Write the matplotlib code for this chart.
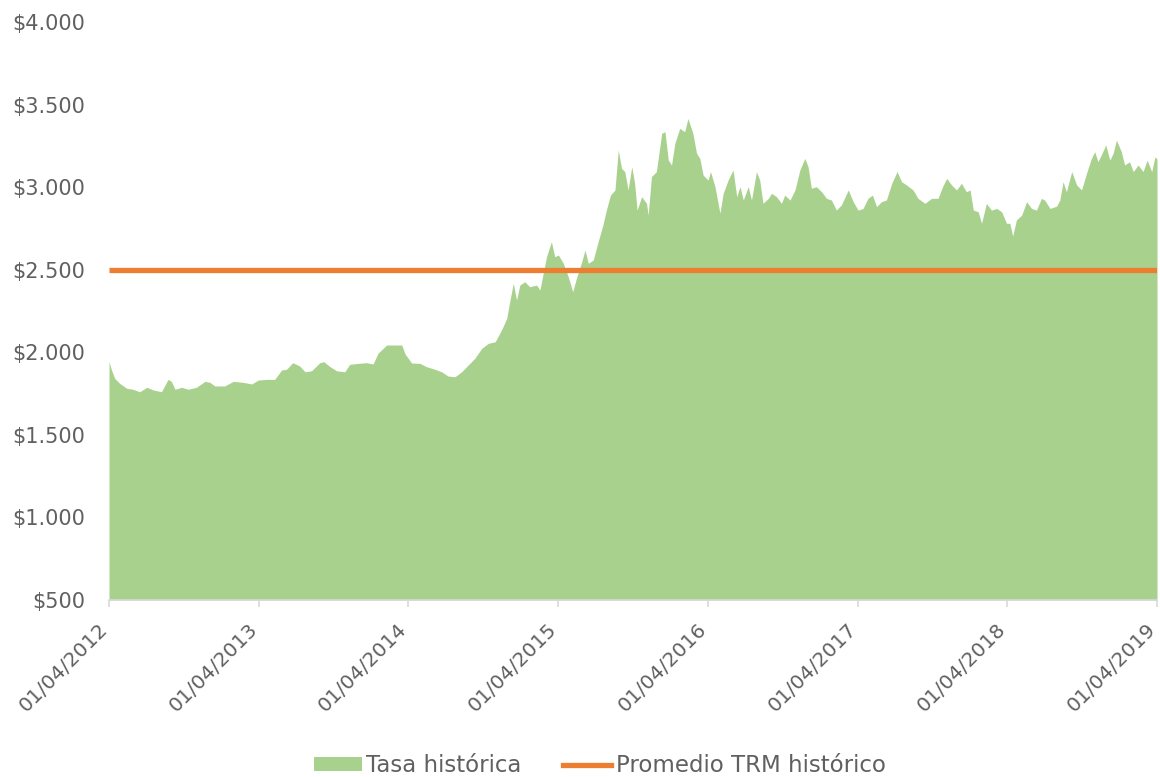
import matplotlib
matplotlib.use("Agg")
import matplotlib.pyplot as plt
import matplotlib.ticker as mticker
import matplotlib.transforms as mtransforms
import pandas as pd
from matplotlib.lines import Line2D
from matplotlib.patches import Patch

# ---- data ----
dates = [
    "2012-04-01", "2012-04-07", "2012-04-15", "2012-04-27", "2012-05-14", "2012-05-29",
    "2012-06-15", "2012-07-02", "2012-07-18", "2012-08-07", "2012-08-23", "2012-08-31",
    "2012-09-09", "2012-09-25", "2012-10-11", "2012-10-31", "2012-11-21", "2012-12-03",
    "2012-12-15", "2013-01-08", "2013-01-29", "2013-02-22", "2013-03-15", "2013-03-31",
    "2013-04-20", "2013-05-10", "2013-05-27", "2013-06-08", "2013-06-23", "2013-07-10",
    "2013-07-23", "2013-08-08", "2013-08-28", "2013-09-07", "2013-09-22", "2013-10-08",
    "2013-10-28", "2013-11-09", "2013-11-30", "2013-12-20", "2014-01-05", "2014-01-17",
    "2014-02-07", "2014-02-27", "2014-03-16", "2014-03-24", "2014-04-09", "2014-04-29",
    "2014-05-15", "2014-06-05", "2014-06-21", "2014-07-07", "2014-07-24", "2014-08-09",
    "2014-08-25", "2014-09-10", "2014-09-27", "2014-10-13", "2014-10-30", "2014-11-10",
    "2014-11-18", "2014-11-27", "2014-12-05", "2014-12-13", "2014-12-21", "2014-12-29",
    "2015-01-10", "2015-01-22", "2015-02-08", "2015-02-16", "2015-02-24", "2015-03-04",
    "2015-03-16", "2015-03-24", "2015-04-02", "2015-04-14", "2015-04-26", "2015-05-07",
    "2015-05-16", "2015-05-29", "2015-06-06", "2015-06-14", "2015-06-26", "2015-07-08",
    "2015-07-20", "2015-07-28", "2015-08-07", "2015-08-18", "2015-08-26", "2015-09-03",
    "2015-09-11", "2015-09-19", "2015-09-28", "2015-10-05", "2015-10-11", "2015-10-22",
    "2015-11-03", "2015-11-07", "2015-11-15", "2015-11-27", "2015-12-10", "2015-12-18",
    "2015-12-26", "2016-01-03", "2016-01-11", "2016-01-23", "2016-02-04", "2016-02-12",
    "2016-02-24", "2016-03-04", "2016-03-12", "2016-03-20", "2016-04-01", "2016-04-07",
    "2016-04-18", "2016-04-30", "2016-05-08", "2016-05-20", "2016-06-01", "2016-06-10",
    "2016-06-18", "2016-06-26", "2016-07-08", "2016-07-16", "2016-07-28", "2016-08-05",
    "2016-08-13", "2016-08-26", "2016-09-03", "2016-09-15", "2016-09-27", "2016-10-05",
    "2016-10-18", "2016-10-30", "2016-11-11", "2016-11-23", "2016-12-01", "2016-12-09",
    "2016-12-21", "2017-01-03", "2017-01-15", "2017-01-27", "2017-02-08", "2017-02-20",
    "2017-03-09", "2017-03-21", "2017-04-02", "2017-04-14", "2017-04-26", "2017-05-07",
    "2017-05-17", "2017-05-29", "2017-06-10", "2017-06-23", "2017-07-06", "2017-07-17",
    "2017-07-29", "2017-08-14", "2017-08-26", "2017-09-12", "2017-09-28", "2017-10-14",
    "2017-10-25", "2017-11-04", "2017-11-16", "2017-11-28", "2017-12-10", "2017-12-22",
    "2017-12-31", "2018-01-08", "2018-01-20", "2018-01-28", "2018-02-09", "2018-02-21",
    "2018-03-06", "2018-03-18", "2018-03-30", "2018-04-07", "2018-04-14", "2018-04-23",
    "2018-05-06", "2018-05-18", "2018-05-30", "2018-06-11", "2018-06-23", "2018-07-01",
    "2018-07-14", "2018-07-30", "2018-08-07", "2018-08-15", "2018-08-23", "2018-09-05",
    "2018-09-17", "2018-09-29", "2018-10-11", "2018-10-23", "2018-10-31", "2018-11-08",
    "2018-11-16", "2018-11-27", "2018-12-07", "2018-12-15", "2018-12-23", "2019-01-04",
    "2019-01-12", "2019-01-24", "2019-02-02", "2019-02-14", "2019-02-26", "2019-03-08",
    "2019-03-19", "2019-03-27", "2019-04-01",
]
tasa = [
    1943, 1893, 1842, 1812, 1782, 1776,
    1761, 1788, 1772, 1761, 1836, 1824,
    1776, 1788, 1776, 1788, 1824, 1818,
    1796, 1796, 1824, 1818, 1808, 1832,
    1836, 1836, 1893, 1897, 1937, 1917,
    1882, 1888, 1937, 1943, 1913, 1888,
    1882, 1927, 1933, 1937, 1929, 1994,
    2044, 2044, 2044, 1990, 1935, 1933,
    1913, 1897, 1882, 1856, 1852, 1882,
    1923, 1963, 2024, 2054, 2064, 2115,
    2155, 2206, 2316, 2418, 2316, 2407,
    2427, 2397, 2407, 2377, 2478, 2579,
    2670, 2579, 2589, 2539, 2458, 2367,
    2448, 2549, 2619, 2539, 2559, 2670,
    2775, 2861, 2952, 2983, 3225, 3114,
    3094, 2983, 3124, 3023, 2861, 2942,
    2902, 2831, 3064, 3094, 3326, 3336,
    3164, 3134, 3265, 3356, 3336, 3416,
    3326, 3205, 3174, 3073, 3043, 3094,
    3003, 2842, 2963, 3043, 3104, 2942,
    3003, 2922, 3003, 2922, 3094, 3043,
    2902, 2932, 2963, 2942, 2902, 2952,
    2922, 2983, 3104, 3174, 3124, 2993,
    3003, 2972, 2932, 2922, 2861, 2892,
    2983, 2912, 2861, 2871, 2932, 2952,
    2882, 2912, 2922, 3023, 3094, 3033,
    3013, 2983, 2932, 2902, 2932, 2932,
    3003, 3053, 3013, 2983, 3023, 2972,
    2983, 2861, 2851, 2781, 2902, 2861,
    2871, 2851, 2781, 2781, 2704, 2801,
    2831, 2912, 2871, 2861, 2932, 2922,
    2871, 2885, 2922, 3033, 2972, 3094,
    3013, 2983, 3084, 3174, 3215, 3154,
    3195, 3255, 3164, 3205, 3285, 3215,
    3134, 3154, 3094, 3134, 3094, 3164,
    3094, 3184, 3170,
]
promedio = 2500
tick_dates = ["2012-04-01", "2013-04-01", "2014-04-01", "2015-04-01",
              "2016-04-01", "2017-04-01", "2018-04-01", "2019-04-01"]
tick_labels = ["01/04/2012", "01/04/2013", "01/04/2014", "01/04/2015",
               "01/04/2016", "01/04/2017", "01/04/2018", "01/04/2019"]
y_ticks = [500, 1000, 1500, 2000, 2500, 3000, 3500, 4000]
series_names = ["Tasa histórica", "Promedio TRM histórico"]

GREEN = "#a9d18e"
ORANGE = "#ed7d31"
TEXT = "#606060"
AXIS = "#d9d9d9"

plt.rcParams["font.family"] = ["DejaVu Sans"]

x = pd.to_datetime(dates)
xt = pd.to_datetime(tick_dates)

fig = plt.figure(figsize=(11.6, 7.77), dpi=100)
ax = fig.add_axes([109 / 1160, 1 - 600 / 777, (1157 - 109) / 1160, (600 - 22) / 777])

ax.fill_between(x, 500, tasa, color=GREEN, linewidth=0, zorder=2)
ax.plot([xt[0], xt[-1]], [promedio, promedio], color=ORANGE, linewidth=3.8,
        solid_capstyle="butt", zorder=3)

ax.set_xlim(xt[0], xt[-1])
ax.set_ylim(500, 4000)
ax.set_xticks(xt)
ax.set_xticklabels(tick_labels, rotation=45, ha="right", va="top",
                   rotation_mode="anchor")
ax.set_yticks(y_ticks)
ax.yaxis.set_major_formatter(mticker.FuncFormatter(
    lambda v, p: "$" + f"{int(v):,}".replace(",", ".")))

for s in ["top", "right", "left"]:
    ax.spines[s].set_visible(False)
ax.spines["bottom"].set_color(AXIS)
ax.spines["bottom"].set_linewidth(1.2)
ax.spines["bottom"].set_zorder(4)

ax.tick_params(axis="x", colors=AXIS, length=5, width=1.2, labelcolor=TEXT,
               labelsize=14.5, pad=4)
ax.tick_params(axis="y", length=0, labelcolor=TEXT, labelsize=15, pad=17)

offset = mtransforms.ScaledTranslation(-11 / 100, -7 / 100, fig.dpi_scale_trans)
for lab in ax.get_xticklabels():
    lab.set_transform(lab.get_transform() + offset)

handles = [Patch(facecolor=GREEN, edgecolor="none"),
           Line2D([0], [0], color=ORANGE, linewidth=3.8)]
fig.legend(handles, series_names, loc="lower center", ncol=2, frameon=False,
           bbox_to_anchor=(0.517, -0.027), fontsize=16.5, labelcolor=TEXT,
           handlelength=2.1, handleheight=0.55, handletextpad=0.2,
           columnspacing=1.8)

fig.savefig("out.png", dpi=100)
